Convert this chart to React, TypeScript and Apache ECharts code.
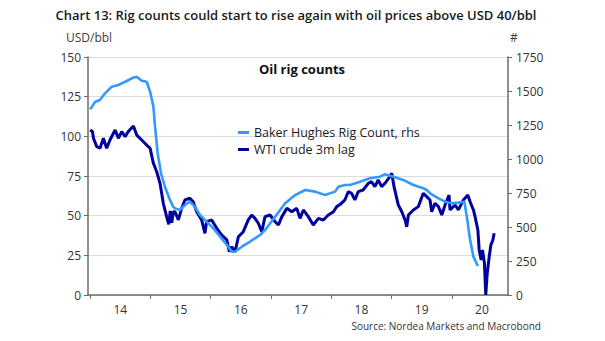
import React, { useEffect, useRef } from "react";
import * as echarts from "echarts";

const titleText = "Chart 13: Rig counts could start to rise again with oil prices above USD 40/bbl";
const sourceText = "Source: Nordea Markets and Macrobond";
const rigName = "Baker Hughes Rig Count, rhs";
const wtiName = "WTI crude 3m lag";

const yearTicks = [2014, 2015, 2016, 2017, 2018, 2019, 2020];
const yearLabels = ["14", "15", "16", "17", "18", "19", "20"];

const rigDates = [
  "2014-01-01", "2014-02-01", "2014-03-01", "2014-04-01", "2014-05-12", "2014-06-21", "2014-08-01", "2014-09-10",
  "2014-10-10", "2014-11-09", "2014-12-09", "2014-12-30", "2015-01-19", "2015-01-29", "2015-02-14", "2015-03-06",
  "2015-03-30", "2015-04-29", "2015-05-19", "2015-05-30", "2015-06-29", "2015-07-29", "2015-08-28", "2015-09-27",
  "2015-10-28", "2015-12-07", "2016-01-17", "2016-02-27", "2016-04-08", "2016-05-08", "2016-05-28", "2016-07-08",
  "2016-08-27", "2016-09-26", "2016-10-27", "2016-11-26", "2017-01-26", "2017-03-28", "2017-05-27", "2017-07-27",
  "2017-09-25", "2017-11-24", "2018-01-24", "2018-02-13", "2018-03-25", "2018-04-24", "2018-06-24", "2018-08-23",
  "2018-10-23", "2018-11-22", "2019-01-12", "2019-03-13", "2019-05-13", "2019-07-12", "2019-08-02", "2019-08-22",
  "2019-10-12", "2019-11-21", "2020-01-01", "2020-02-10", "2020-03-17", "2020-04-01", "2020-04-21", "2020-05-11",
  "2020-06-07",
];
const rigCounts = [
  1365, 1421, 1434, 1483, 1532, 1544, 1568, 1593,
  1605, 1576, 1568, 1495, 1385, 1238, 1042, 895,
  796, 699, 649, 637, 625, 662, 686, 649,
  588, 539, 490, 429, 368, 318, 318, 355,
  392, 417, 441, 478, 576, 674, 735, 772,
  760, 735, 760, 796, 809, 809, 833, 858,
  870, 888, 870, 846, 809, 785, 772, 748,
  711, 686, 674, 679, 686, 576, 404, 282,
  213,
];

const wtiDates = [
  "2014-01-01", "2014-01-15", "2014-01-21", "2014-02-10", "2014-03-02", "2014-03-22", "2014-04-11", "2014-05-01",
  "2014-06-01", "2014-06-21", "2014-07-11", "2014-08-01", "2014-08-20", "2014-09-20", "2014-10-10", "2014-11-09",
  "2014-12-09", "2014-12-30", "2015-01-19", "2015-02-08", "2015-02-28", "2015-03-20", "2015-04-09", "2015-04-22",
  "2015-05-01", "2015-05-10", "2015-05-20", "2015-05-30", "2015-06-19", "2015-07-09", "2015-07-29", "2015-08-28",
  "2015-09-17", "2015-10-08", "2015-11-07", "2015-11-27", "2015-12-07", "2016-01-07", "2016-02-07", "2016-03-08",
  "2016-04-08", "2016-04-23", "2016-05-08", "2016-05-28", "2016-06-17", "2016-07-17", "2016-08-16", "2016-09-06",
  "2016-09-26", "2016-10-16", "2016-11-06", "2016-11-26", "2016-12-26", "2017-01-26", "2017-02-15", "2017-03-08",
  "2017-04-07", "2017-05-07", "2017-06-06", "2017-06-26", "2017-07-16", "2017-08-15", "2017-09-14", "2017-10-15",
  "2017-11-14", "2017-12-14", "2018-01-14", "2018-02-03", "2018-02-23", "2018-03-25", "2018-04-14", "2018-05-04",
  "2018-05-24", "2018-06-13", "2018-07-13", "2018-08-13", "2018-09-02", "2018-09-22", "2018-10-12", "2018-11-02",
  "2018-11-22", "2018-12-22", "2019-01-02", "2019-01-16", "2019-02-11", "2019-03-04", "2019-03-24", "2019-04-03",
  "2019-04-13", "2019-05-13", "2019-06-12", "2019-07-12", "2019-08-02", "2019-08-22", "2019-09-01", "2019-09-21",
  "2019-10-12", "2019-11-01", "2019-11-21", "2019-12-15", "2019-12-21", "2020-01-21", "2020-02-10", "2020-03-11",
  "2020-04-07", "2020-04-21", "2020-05-11", "2020-05-21", "2020-06-07", "2020-06-15", "2020-06-27", "2020-07-05",
  "2020-07-17", "2020-07-25", "2020-08-03", "2020-08-15", "2020-08-25", "2020-09-06", "2020-09-14",
];
const wtiPrices = [
  104, 103, 98.8, 93.5, 92.5, 98.8, 92.5, 97.7,
  104, 98.8, 103, 99.8, 103, 106.5, 100.8, 97.7,
  94.5, 92.5, 83, 77.7, 70.4, 57.8, 49.4, 44.5,
  53, 45.5, 52.5, 52.5, 47.3, 54.6, 59.9, 61,
  58.8, 52.5, 47.3, 38.9, 46.2, 47.3, 42, 37.8,
  34.7, 27.3, 30.4, 27.3, 36.7, 39.9, 47.3, 50.4,
  48.3, 45.2, 39.9, 49.4, 50.4, 46.2, 44.1, 49.4,
  54.6, 52.5, 54.6, 48.3, 53.6, 49.4, 44.1, 48.3,
  47.3, 50.4, 52.5, 55.7, 57, 60, 65.1, 64.1,
  59.9, 65.1, 66.2, 70.4, 71.4, 68.3, 72.5, 68.3,
  70.4, 74.6, 76.7, 68.3, 56.7, 52.5, 47.3, 43,
  50.4, 53.6, 55.7, 64.1, 62, 59.9, 52.5, 57.8,
  55.7, 50.4, 56.7, 63, 53.6, 56.7, 53.6, 59.9,
  63, 58.8, 53.6, 49.4, 41, 28.4, 22.1, 28.4,
  20, 0, 13.7, 24.1, 31.5, 34.7, 38.9,
];

const FONT = "'Open Sans', 'Noto Sans', sans-serif";

// date string -> decimal year
const dy = (d: string) => {
  const [y, m, day] = d.split("-").map(Number);
  const start = Date.UTC(y, 0, 1);
  const end = Date.UTC(y + 1, 0, 1);
  return y + (Date.UTC(y, m - 1, day) - start) / (end - start);
};

export default function App() {
  const ref = useRef<HTMLDivElement>(null);
  useEffect(() => {
    if (!ref.current) return;
    const chart = echarts.init(ref.current, null, { renderer: "svg" });
    const axisLineColor = "#6b6b6b";
    chart.setOption({
      animation: false,
      backgroundColor: "#ffffff",
      grid: { left: 88, right: 97, top: 57, bottom: 46, containLabel: false },
      legend: {
        left: 233,
        top: 121,
        orient: "vertical",
        itemWidth: 11,
        itemHeight: 3,
        itemGap: 4,
        icon: "rect",
        data: [rigName, wtiName],
        textStyle: { fontFamily: FONT, fontSize: 12.5, color: "#1a1a1a" },
      },
      xAxis: {
        type: "value",
        min: dy("2013-12-19"),
        max: dy("2020-12-07"),
        axisLine: { show: true, onZero: false, lineStyle: { color: axisLineColor, width: 1.5 } },
        axisTick: { show: true, length: 4, lineStyle: { color: axisLineColor }, customValues: yearTicks },
        axisLabel: {
          customValues: yearTicks.map((y) => y + 0.5),
          formatter: (v: number) => yearLabels[yearTicks.indexOf(Math.floor(v))] ?? "",
          fontFamily: FONT,
          fontSize: 12,
          color: "#333",
          margin: 8,
        },
        splitLine: { show: false },
      },
      yAxis: [
        {
          type: "value",
          min: 0,
          max: 150,
          interval: 25,
          position: "left",
          axisLine: { show: true, lineStyle: { color: axisLineColor, width: 1.5 } },
          axisTick: { show: true, length: 4, lineStyle: { color: axisLineColor } },
          axisLabel: { fontFamily: FONT, fontSize: 12, color: "#333", margin: 7 },
          splitLine: { show: true, lineStyle: { color: "#dcdcdc", width: 1 } },
        },
        {
          type: "value",
          min: 0,
          max: 1750,
          interval: 250,
          position: "right",
          axisLine: { show: true, lineStyle: { color: axisLineColor, width: 1.5 } },
          axisTick: { show: true, length: 4, lineStyle: { color: axisLineColor } },
          axisLabel: {
            fontFamily: FONT,
            fontSize: 12,
            color: "#333",
            margin: 8,
            formatter: (v: number) => String(v),
          },
          splitLine: { show: false },
        },
      ],
      graphic: [
        {
          type: "text",
          x: 296,
          y: 15,
          style: {
            text: titleText,
            fontFamily: FONT,
            fontSize: 13,
            fontWeight: 600,
            fill: "#1a1a1a",
            align: "center",
            verticalAlign: "middle",
          },
        },
        {
          type: "text",
          x: 66,
          y: 37,
          style: { text: "USD/bbl", fontFamily: FONT, fontSize: 12, fill: "#404040", verticalAlign: "middle" },
        },
        {
          type: "text",
          x: 510,
          y: 37,
          style: { text: "#", fontFamily: FONT, fontSize: 12, fill: "#404040", verticalAlign: "middle" },
        },
        {
          type: "text",
          x: 302,
          y: 69,
          style: {
            text: "Oil rig counts",
            fontFamily: FONT,
            fontSize: 13,
            fontWeight: "bold",
            fill: "#111",
            align: "center",
            verticalAlign: "middle",
          },
        },
        {
          type: "text",
          x: 541,
          y: 326,
          style: {
            text: sourceText,
            fontFamily: FONT,
            fontSize: 10,
            fill: "#333",
            align: "right",
            verticalAlign: "middle",
          },
        },
      ],
      series: [
        {
          name: wtiName,
          type: "line",
          yAxisIndex: 0,
          showSymbol: false,
          color: "#00009c",
          lineStyle: { width: 3, color: "#00009c" },
          data: wtiDates.map((d, i) => [dy(d), wtiPrices[i]]),
          z: 2,
        },
        {
          name: rigName,
          type: "line",
          yAxisIndex: 1,
          showSymbol: false,
          color: "#3399ff",
          lineStyle: { width: 2.6, color: "#3399ff" },
          data: rigDates.map((d, i) => [dy(d), rigCounts[i]]),
          z: 3,
        },
      ],
    });
    return () => chart.dispose();
  }, []);
  return <div ref={ref} style={{ position: "fixed", left: 0, top: 0, width: 605, height: 341 }} />;
}
